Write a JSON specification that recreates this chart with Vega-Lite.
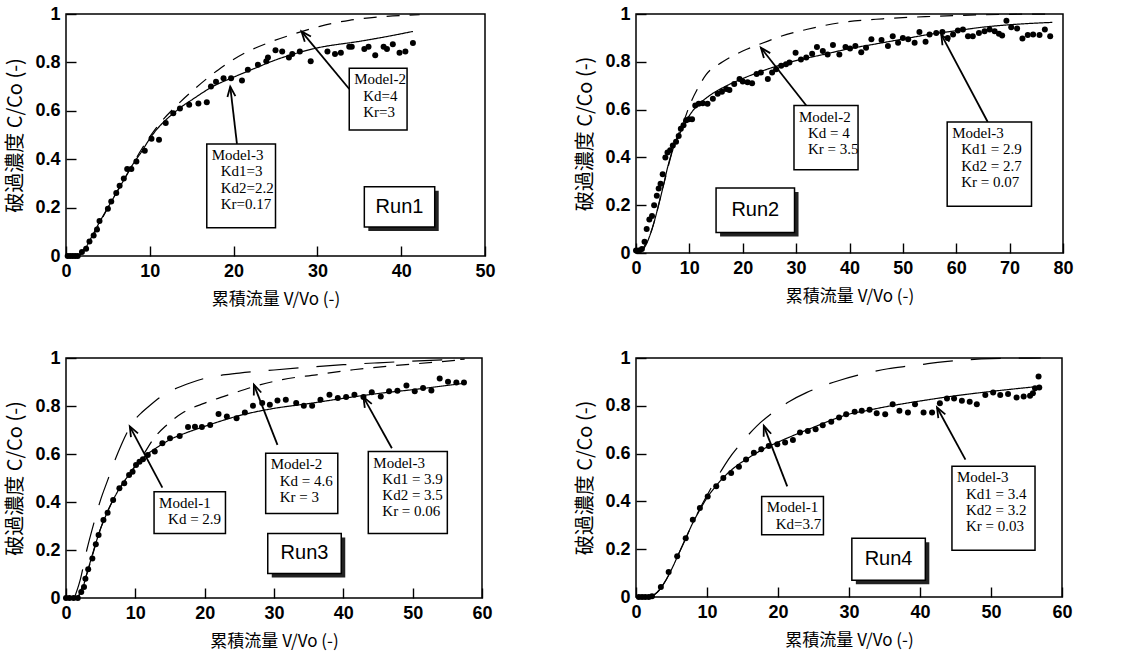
{
  "$schema": "https://vega.github.io/schema/vega-lite/v6.json",
  "background": "white",
  "padding": {"left": 5, "top": 4, "right": 5, "bottom": 5},
  "columns": 2,
  "spacing": {"row": 102, "column": 151},
  "bounds": "flush",
  "config": {
    "view": {"stroke": "black", "strokeWidth": 1.5},
    "axis": {
      "domain": false, "grid": false,
      "tickColor": "black", "tickSize": -10, "tickWidth": 1.4,
      "labelFont": "Liberation Sans", "labelFontWeight": "bold", "labelFontSize": 18, "labelColor": "black",
      "labelFlush": false, "labelPadding": 16,
      "titleFont": "Noto Sans CJK JP", "titleFontWeight": "normal", "titleColor": "black"
    },
    "axisX": {"titlePadding": 11, "titleFontSize": 17},
    "axisY": {"titlePadding": 9, "titleFontSize": 20}
  },
  "datasets": {
    "run1": [
      {"x":0.2,"y":0},{"x":0.5,"y":0},{"x":0.8,"y":0},{"x":1.1,"y":0},{"x":1.4,"y":0},{"x":1.9,"y":0.017},{"x":2.4,"y":0.03},{"x":2.8,"y":0.06},{"x":3.3,"y":0.085},{"x":3.7,"y":0.11},{"x":4.0,"y":0.145},{"x":5.0,"y":0.195},{"x":5.4,"y":0.225},{"x":6.0,"y":0.26},{"x":6.4,"y":0.29},{"x":6.9,"y":0.32},{"x":7.3,"y":0.36},{"x":7.8,"y":0.36},{"x":8.4,"y":0.39},{"x":9.4,"y":0.435},{"x":10.2,"y":0.485},{"x":11.1,"y":0.48},{"x":11.9,"y":0.55},{"x":12.8,"y":0.59},{"x":13.6,"y":0.61},{"x":14.7,"y":0.625},{"x":15.8,"y":0.63},{"x":16.8,"y":0.635},{"x":17.3,"y":0.7},{"x":17.9,"y":0.72},{"x":18.8,"y":0.735},{"x":19.7,"y":0.735},{"x":21.0,"y":0.725},{"x":21.7,"y":0.77},{"x":22.9,"y":0.79},{"x":23.9,"y":0.805},{"x":24.1,"y":0.82},{"x":25.0,"y":0.85},{"x":25.8,"y":0.845},{"x":26.6,"y":0.82},{"x":27.0,"y":0.835},{"x":27.9,"y":0.845},{"x":29.2,"y":0.805},{"x":31.2,"y":0.845},{"x":32.1,"y":0.835},{"x":32.8,"y":0.84},{"x":33.8,"y":0.865},{"x":34.1,"y":0.865},{"x":35.6,"y":0.855},{"x":36.1,"y":0.865},{"x":36.9,"y":0.83},{"x":37.9,"y":0.865},{"x":38.3,"y":0.855},{"x":39.0,"y":0.875},{"x":39.8,"y":0.84},{"x":40.5,"y":0.845},{"x":41.4,"y":0.88}
    ],
    "run1_models": [
      {"model":"Model-3","x":1.5,"y":0},{"model":"Model-3","x":2,"y":0.015},{"model":"Model-3","x":3,"y":0.075},{"model":"Model-3","x":4,"y":0.14},{"model":"Model-3","x":5,"y":0.2},{"model":"Model-3","x":6,"y":0.26},{"model":"Model-3","x":7,"y":0.32},{"model":"Model-3","x":8,"y":0.38},{"model":"Model-3","x":9,"y":0.43},{"model":"Model-3","x":10,"y":0.485},{"model":"Model-3","x":11,"y":0.53},{"model":"Model-3","x":12,"y":0.565},{"model":"Model-3","x":13,"y":0.595},{"model":"Model-3","x":14,"y":0.622},{"model":"Model-3","x":15,"y":0.645},{"model":"Model-3","x":17.5,"y":0.7},{"model":"Model-3","x":20,"y":0.739},{"model":"Model-3","x":22.5,"y":0.775},{"model":"Model-3","x":25,"y":0.81},{"model":"Model-3","x":27.5,"y":0.838},{"model":"Model-3","x":30,"y":0.86},{"model":"Model-3","x":35,"y":0.887},{"model":"Model-3","x":38,"y":0.905},{"model":"Model-3","x":41.4,"y":0.928},
      {"model":"Model-2","x":1.5,"y":0},{"model":"Model-2","x":3,"y":0.07},{"model":"Model-2","x":5,"y":0.2},{"model":"Model-2","x":7,"y":0.32},{"model":"Model-2","x":9,"y":0.44},{"model":"Model-2","x":11,"y":0.54},{"model":"Model-2","x":13,"y":0.615},{"model":"Model-2","x":15.2,"y":0.686},{"model":"Model-2","x":18.2,"y":0.77},{"model":"Model-2","x":21.3,"y":0.838},{"model":"Model-2","x":24.3,"y":0.883},{"model":"Model-2","x":27.9,"y":0.925},{"model":"Model-2","x":30.3,"y":0.949},{"model":"Model-2","x":33.8,"y":0.974},{"model":"Model-2","x":37.4,"y":0.988},{"model":"Model-2","x":42.2,"y":0.997}
    ],
    "run2": [
      {"x":0,"y":0.01},{"x":0.5,"y":0.01},{"x":1.1,"y":0.017},{"x":1.6,"y":0.047},{"x":2.0,"y":0.1},{"x":2.5,"y":0.14},{"x":3.0,"y":0.155},{"x":3.4,"y":0.2},{"x":3.9,"y":0.24},{"x":4.25,"y":0.27},{"x":4.6,"y":0.29},{"x":5.0,"y":0.33},{"x":5.5,"y":0.4},{"x":5.9,"y":0.42},{"x":6.4,"y":0.43},{"x":6.9,"y":0.45},{"x":7.5,"y":0.465},{"x":8.0,"y":0.49},{"x":8.4,"y":0.52},{"x":8.9,"y":0.535},{"x":9.4,"y":0.555},{"x":9.9,"y":0.56},{"x":10.5,"y":0.56},{"x":11.1,"y":0.617},{"x":11.75,"y":0.625},{"x":12.5,"y":0.627},{"x":13.4,"y":0.624},{"x":14.4,"y":0.645},{"x":15.3,"y":0.666},{"x":16.1,"y":0.675},{"x":16.9,"y":0.686},{"x":17.5,"y":0.682},{"x":18.4,"y":0.707},{"x":19.4,"y":0.728},{"x":20.0,"y":0.718},{"x":20.9,"y":0.714},{"x":21.75,"y":0.71},{"x":22.6,"y":0.749},{"x":23.4,"y":0.755},{"x":24.7,"y":0.728},{"x":25.5,"y":0.755},{"x":26.25,"y":0.769},{"x":27.2,"y":0.783},{"x":28.1,"y":0.79},{"x":28.75,"y":0.797},{"x":29.9,"y":0.838},{"x":30.9,"y":0.81},{"x":31.9,"y":0.818},{"x":33.0,"y":0.834},{"x":33.9,"y":0.862},{"x":35.0,"y":0.845},{"x":35.9,"y":0.831},{"x":36.9,"y":0.87},{"x":38.1,"y":0.831},{"x":39.25,"y":0.862},{"x":40.1,"y":0.856},{"x":41.1,"y":0.866},{"x":42.2,"y":0.84},{"x":43.1,"y":0.859},{"x":44.1,"y":0.894},{"x":46.0,"y":0.891},{"x":47.2,"y":0.866},{"x":48.1,"y":0.907},{"x":49.1,"y":0.88},{"x":50.0,"y":0.9},{"x":51.0,"y":0.894},{"x":52.2,"y":0.88},{"x":53.1,"y":0.925},{"x":54.25,"y":0.884},{"x":55.0,"y":0.914},{"x":56.25,"y":0.921},{"x":57.4,"y":0.925},{"x":58.4,"y":0.9},{"x":59.4,"y":0.914},{"x":60.3,"y":0.931},{"x":61.25,"y":0.935},{"x":62.2,"y":0.907},{"x":63.1,"y":0.907},{"x":64.25,"y":0.921},{"x":65.3,"y":0.928},{"x":66.25,"y":0.935},{"x":67.2,"y":0.928},{"x":68.0,"y":0.917},{"x":68.6,"y":0.91},{"x":69.4,"y":0.972},{"x":70.3,"y":0.945},{"x":71.4,"y":0.939},{"x":72.4,"y":0.898},{"x":73.4,"y":0.912},{"x":74.4,"y":0.914},{"x":75.6,"y":0.912},{"x":76.6,"y":0.935},{"x":77.6,"y":0.907}
    ],
    "run2_models": [
      {"model":"Model-3","x":0.8,"y":0},{"model":"Model-3","x":2,"y":0.04},{"model":"Model-3","x":3,"y":0.1},{"model":"Model-3","x":4,"y":0.18},{"model":"Model-3","x":5,"y":0.27},{"model":"Model-3","x":6,"y":0.365},{"model":"Model-3","x":7,"y":0.44},{"model":"Model-3","x":8,"y":0.49},{"model":"Model-3","x":9,"y":0.535},{"model":"Model-3","x":10,"y":0.575},{"model":"Model-3","x":11,"y":0.605},{"model":"Model-3","x":12,"y":0.627},{"model":"Model-3","x":14,"y":0.662},{"model":"Model-3","x":17,"y":0.7},{"model":"Model-3","x":20,"y":0.73},{"model":"Model-3","x":25,"y":0.772},{"model":"Model-3","x":30,"y":0.805},{"model":"Model-3","x":35,"y":0.83},{"model":"Model-3","x":40,"y":0.855},{"model":"Model-3","x":45,"y":0.875},{"model":"Model-3","x":50,"y":0.895},{"model":"Model-3","x":55,"y":0.915},{"model":"Model-3","x":60,"y":0.93},{"model":"Model-3","x":65,"y":0.945},{"model":"Model-3","x":70,"y":0.955},{"model":"Model-3","x":78,"y":0.965},
      {"model":"Model-2","x":0.8,"y":0},{"model":"Model-2","x":3,"y":0.1},{"model":"Model-2","x":5,"y":0.27},{"model":"Model-2","x":7,"y":0.44},{"model":"Model-2","x":9.1,"y":0.56},{"model":"Model-2","x":10,"y":0.615},{"model":"Model-2","x":11.6,"y":0.69},{"model":"Model-2","x":13.1,"y":0.745},{"model":"Model-2","x":16.25,"y":0.8},{"model":"Model-2","x":20,"y":0.845},{"model":"Model-2","x":23.1,"y":0.873},{"model":"Model-2","x":26.9,"y":0.905},{"model":"Model-2","x":31.9,"y":0.935},{"model":"Model-2","x":38.1,"y":0.963},{"model":"Model-2","x":46.25,"y":0.98},{"model":"Model-2","x":55.6,"y":0.99},{"model":"Model-2","x":68,"y":0.998},{"model":"Model-2","x":78,"y":1.0}
    ],
    "run3": [
      {"x":0,"y":0},{"x":0.5,"y":0},{"x":1.1,"y":0},{"x":1.7,"y":0},{"x":2.2,"y":0.025},{"x":2.6,"y":0.046},{"x":2.8,"y":0.08},{"x":3.2,"y":0.12},{"x":3.8,"y":0.165},{"x":4.3,"y":0.224},{"x":4.7,"y":0.262},{"x":5.4,"y":0.325},{"x":6.0,"y":0.355},{"x":6.8,"y":0.408},{"x":7.7,"y":0.457},{"x":8.4,"y":0.478},{"x":9.1,"y":0.513},{"x":9.6,"y":0.526},{"x":10.1,"y":0.554},{"x":10.6,"y":0.568},{"x":11.1,"y":0.578},{"x":11.8,"y":0.596},{"x":12.8,"y":0.61},{"x":13.9,"y":0.645},{"x":15.0,"y":0.666},{"x":16.4,"y":0.675},{"x":17.6,"y":0.712},{"x":18.6,"y":0.714},{"x":19.6,"y":0.712},{"x":20.8,"y":0.721},{"x":22.0,"y":0.767},{"x":23.2,"y":0.756},{"x":24.6,"y":0.749},{"x":25.8,"y":0.773},{"x":26.97,"y":0.801},{"x":28.3,"y":0.812},{"x":29.4,"y":0.805},{"x":30.5,"y":0.823},{"x":31.7,"y":0.826},{"x":33.2,"y":0.812},{"x":34.3,"y":0.801},{"x":35.5,"y":0.801},{"x":36.7,"y":0.826},{"x":38.0,"y":0.847},{"x":39.2,"y":0.833},{"x":40.4,"y":0.837},{"x":41.6,"y":0.847},{"x":42.9,"y":0.837},{"x":44.1,"y":0.857},{"x":45.4,"y":0.84},{"x":46.6,"y":0.861},{"x":47.8,"y":0.864},{"x":49.1,"y":0.885},{"x":50.3,"y":0.861},{"x":51.5,"y":0.875},{"x":52.7,"y":0.865},{"x":53.9,"y":0.915},{"x":55.1,"y":0.901},{"x":56.3,"y":0.898},{"x":57.4,"y":0.898}
    ],
    "run3_models": [
      {"model":"Model-3","x":1.7,"y":0},{"model":"Model-3","x":2.5,"y":0.05},{"model":"Model-3","x":3,"y":0.1},{"model":"Model-3","x":4,"y":0.2},{"model":"Model-3","x":5,"y":0.29},{"model":"Model-3","x":6,"y":0.36},{"model":"Model-3","x":7,"y":0.42},{"model":"Model-3","x":8,"y":0.47},{"model":"Model-3","x":9,"y":0.51},{"model":"Model-3","x":10,"y":0.55},{"model":"Model-3","x":11,"y":0.58},{"model":"Model-3","x":12,"y":0.605},{"model":"Model-3","x":13,"y":0.625},{"model":"Model-3","x":15,"y":0.66},{"model":"Model-3","x":17.5,"y":0.69},{"model":"Model-3","x":20,"y":0.715},{"model":"Model-3","x":25,"y":0.76},{"model":"Model-3","x":30,"y":0.79},{"model":"Model-3","x":35,"y":0.81},{"model":"Model-3","x":40,"y":0.832},{"model":"Model-3","x":45,"y":0.852},{"model":"Model-3","x":50,"y":0.868},{"model":"Model-3","x":57.5,"y":0.895},
      {"model":"Model-2","x":1.7,"y":0},{"model":"Model-2","x":3,"y":0.1},{"model":"Model-2","x":5,"y":0.29},{"model":"Model-2","x":7,"y":0.42},{"model":"Model-2","x":9,"y":0.51},{"model":"Model-2","x":11,"y":0.59},{"model":"Model-2","x":12.8,"y":0.67},{"model":"Model-2","x":14.5,"y":0.72},{"model":"Model-2","x":17,"y":0.775},{"model":"Model-2","x":20,"y":0.812},{"model":"Model-2","x":24,"y":0.852},{"model":"Model-2","x":27.6,"y":0.885},{"model":"Model-2","x":31.2,"y":0.91},{"model":"Model-2","x":36.1,"y":0.93},{"model":"Model-2","x":41.4,"y":0.951},{"model":"Model-2","x":47.2,"y":0.968},{"model":"Model-2","x":53,"y":0.982},{"model":"Model-2","x":57.4,"y":0.993},
      {"model":"Model-1","x":1.2,"y":0},{"model":"Model-1","x":2,"y":0.07},{"model":"Model-1","x":3,"y":0.2},{"model":"Model-1","x":4,"y":0.31},{"model":"Model-1","x":5,"y":0.41},{"model":"Model-1","x":6,"y":0.49},{"model":"Model-1","x":7,"y":0.57},{"model":"Model-1","x":8,"y":0.64},{"model":"Model-1","x":9,"y":0.7},{"model":"Model-1","x":10,"y":0.745},{"model":"Model-1","x":11,"y":0.775},{"model":"Model-1","x":12,"y":0.8},{"model":"Model-1","x":14,"y":0.845},{"model":"Model-1","x":16,"y":0.875},{"model":"Model-1","x":18,"y":0.897},{"model":"Model-1","x":20,"y":0.915},{"model":"Model-1","x":25,"y":0.937},{"model":"Model-1","x":30,"y":0.95},{"model":"Model-1","x":35,"y":0.962},{"model":"Model-1","x":40,"y":0.972},{"model":"Model-1","x":45,"y":0.98},{"model":"Model-1","x":50,"y":0.987},{"model":"Model-1","x":57.5,"y":0.995}
    ],
    "run4": [
      {"x":0.4,"y":0},{"x":0.85,"y":0},{"x":1.3,"y":0},{"x":1.8,"y":0},{"x":2.25,"y":0.003},{"x":3.5,"y":0.042},{"x":4.6,"y":0.105},{"x":5.8,"y":0.171},{"x":7.0,"y":0.246},{"x":8.0,"y":0.323},{"x":9.0,"y":0.372},{"x":10.1,"y":0.421},{"x":11.3,"y":0.463},{"x":12.3,"y":0.498},{"x":13.4,"y":0.519},{"x":14.5,"y":0.545},{"x":15.5,"y":0.575},{"x":16.6,"y":0.604},{"x":17.65,"y":0.618},{"x":18.7,"y":0.632},{"x":19.9,"y":0.639},{"x":21.0,"y":0.646},{"x":22.1,"y":0.657},{"x":23.1,"y":0.688},{"x":24.2,"y":0.695},{"x":25.3,"y":0.702},{"x":26.3,"y":0.719},{"x":27.5,"y":0.733},{"x":28.6,"y":0.751},{"x":29.6,"y":0.765},{"x":30.8,"y":0.775},{"x":31.8,"y":0.779},{"x":32.9,"y":0.783},{"x":33.9,"y":0.769},{"x":35.1,"y":0.765},{"x":36.15,"y":0.807},{"x":37.1,"y":0.779},{"x":38.3,"y":0.772},{"x":39.3,"y":0.807},{"x":40.5,"y":0.772},{"x":41.7,"y":0.772},{"x":42.8,"y":0.811},{"x":43.8,"y":0.831},{"x":44.8,"y":0.831},{"x":45.9,"y":0.821},{"x":47.0,"y":0.817},{"x":48.0,"y":0.807},{"x":49.2,"y":0.845},{"x":50.3,"y":0.856},{"x":51.3,"y":0.845},{"x":52.4,"y":0.849},{"x":53.6,"y":0.835},{"x":54.6,"y":0.839},{"x":55.5,"y":0.842},{"x":55.9,"y":0.853},{"x":56.2,"y":0.873},{"x":56.7,"y":0.923},{"x":56.8,"y":0.877}
    ],
    "run4_models": [
      {"model":"Model-3","x":2,"y":0},{"model":"Model-3","x":3,"y":0.02},{"model":"Model-3","x":4,"y":0.06},{"model":"Model-3","x":5,"y":0.115},{"model":"Model-3","x":6,"y":0.18},{"model":"Model-3","x":7,"y":0.245},{"model":"Model-3","x":8,"y":0.31},{"model":"Model-3","x":9,"y":0.365},{"model":"Model-3","x":10,"y":0.415},{"model":"Model-3","x":11,"y":0.455},{"model":"Model-3","x":12,"y":0.49},{"model":"Model-3","x":13,"y":0.52},{"model":"Model-3","x":14,"y":0.545},{"model":"Model-3","x":16,"y":0.585},{"model":"Model-3","x":18,"y":0.62},{"model":"Model-3","x":20,"y":0.648},{"model":"Model-3","x":22.5,"y":0.68},{"model":"Model-3","x":25,"y":0.71},{"model":"Model-3","x":27.5,"y":0.74},{"model":"Model-3","x":30,"y":0.765},{"model":"Model-3","x":32.5,"y":0.78},{"model":"Model-3","x":35,"y":0.795},{"model":"Model-3","x":40,"y":0.82},{"model":"Model-3","x":45,"y":0.842},{"model":"Model-3","x":50,"y":0.86},{"model":"Model-3","x":57,"y":0.882},
      {"model":"Model-1","x":2,"y":0},{"model":"Model-1","x":3,"y":0.02},{"model":"Model-1","x":4,"y":0.06},{"model":"Model-1","x":5,"y":0.115},{"model":"Model-1","x":6,"y":0.18},{"model":"Model-1","x":7,"y":0.245},{"model":"Model-1","x":8,"y":0.31},{"model":"Model-1","x":9,"y":0.37},{"model":"Model-1","x":10,"y":0.425},{"model":"Model-1","x":11,"y":0.478},{"model":"Model-1","x":12,"y":0.528},{"model":"Model-1","x":13,"y":0.575},{"model":"Model-1","x":15,"y":0.65},{"model":"Model-1","x":17,"y":0.715},{"model":"Model-1","x":19.2,"y":0.77},{"model":"Model-1","x":21.6,"y":0.818},{"model":"Model-1","x":24,"y":0.855},{"model":"Model-1","x":26.2,"y":0.882},{"model":"Model-1","x":28.5,"y":0.905},{"model":"Model-1","x":31,"y":0.926},{"model":"Model-1","x":33,"y":0.94},{"model":"Model-1","x":35.5,"y":0.955},{"model":"Model-1","x":38,"y":0.965},{"model":"Model-1","x":40,"y":0.972},{"model":"Model-1","x":42.5,"y":0.982},{"model":"Model-1","x":46.5,"y":0.992},{"model":"Model-1","x":50,"y":0.997},{"model":"Model-1","x":57,"y":1.0}
    ],
    "notes": [
      {"run":"Run1","head":"Model-3","body":"Kd1=3\nKd2=2.2\nKr=0.17","x1":16.8,"x2":25.0,"y1":0.117,"y2":0.463,"ax":20.4,"ay":0.463,"hx":19.6,"hy":0.7},
      {"run":"Run1","head":"Model-2","body":"Kd=4\nKr=3","x1":33.8,"x2":40.7,"y1":0.521,"y2":0.776,"ax":33.8,"ay":0.69,"hx":28.1,"hy":0.928},
      {"run":"Run2","head":"Model-2","body":"Kd = 4\nKr = 3.5","x1":29.6,"x2":41.6,"y1":0.348,"y2":0.617,"ax":31.9,"ay":0.617,"hx":23.4,"hy":0.859},
      {"run":"Run2","head":"Model-3","body":"Kd1 = 2.9\nKd2 = 2.7\nKr = 0.07","x1":58.3,"x2":74.1,"y1":0.196,"y2":0.548,"ax":65.9,"ay":0.548,"hx":57.2,"hy":0.914},
      {"run":"Run3","head":"Model-1","body":"Kd = 2.9","x1":12.7,"x2":23.0,"y1":0.269,"y2":0.443,"ax":13.9,"ay":0.46,"hx":9.2,"hy":0.715},
      {"run":"Run3","head":"Model-2","body":"Kd = 4.6\nKr = 3","x1":28.8,"x2":39.2,"y1":0.352,"y2":0.603,"ax":30.5,"ay":0.638,"hx":27.1,"hy":0.889},
      {"run":"Run3","head":"Model-3","body":"Kd1 = 3.9\nKd2 = 3.5\nKr = 0.06","x1":43.6,"x2":55.0,"y1":0.269,"y2":0.61,"ax":47.0,"ay":0.624,"hx":42.9,"hy":0.837},
      {"run":"Run4","head":"Model-1","body":"Kd=3.7","x1":17.7,"x2":26.4,"y1":0.26,"y2":0.421,"ax":21.3,"ay":0.463,"hx":18.0,"hy":0.716},
      {"run":"Run4","head":"Model-3","body":"Kd1 = 3.4\nKd2 = 3.2\nKr = 0.03","x1":44.5,"x2":56.2,"y1":0.196,"y2":0.547,"ax":46.4,"ay":0.575,"hx":42.4,"hy":0.793}
    ],
    "runs": [
      {"run":"Run1","x1":35.6,"x2":44.0,"y1":0.12,"y2":0.286},
      {"run":"Run2","x1":15,"x2":29.7,"y1":0.086,"y2":0.272},
      {"run":"Run3","x1":29.1,"x2":39.7,"y1":0.102,"y2":0.269},
      {"run":"Run4","x1":30.4,"x2":40.75,"y1":0.07,"y2":0.246}
    ]
  },
  "concat": [
    {
      "width": 419, "height": 242,
      "layer": [
        {"data": {"name": "run1_models"}, "mark": {"type": "line", "color": "black", "strokeWidth": 1.2, "interpolate": "monotone"},
         "encoding": {
           "x": {"field": "x", "type": "quantitative", "scale": {"domain": [0, 50], "nice": false}, "axis": {"values": [0,10,20,30,40,50], "format": "d", "title": "累積流量 V/Vo (-)"}},
           "y": {"field": "y", "type": "quantitative", "scale": {"domain": [0, 1], "nice": false}, "axis": {"values": [0,0.2,0.4,0.6,0.8,1], "format": "~g", "title": "破過濃度 C/Co (-)"}},
           "strokeDash": {"field": "model", "type": "nominal", "scale": {"domain": ["Model-1","Model-2","Model-3"], "range": [[30,18],[13,10],[1,0]]}, "legend": null}}},
        {"data": {"name": "run1"}, "mark": {"type": "circle", "color": "black", "size": 36, "opacity": 1},
         "encoding": {"x": {"field": "x", "type": "quantitative"}, "y": {"field": "y", "type": "quantitative"}}},
        {"data": {"name": "notes"}, "transform": [{"filter": "datum.run == 'Run1'"}], "mark": {"type": "rule", "color": "black", "strokeWidth": 1.8},
         "encoding": {"x": {"field": "ax", "type": "quantitative"}, "y": {"field": "ay", "type": "quantitative"}, "x2": {"field": "hx"}, "y2": {"field": "hy"}}},
        {"data": {"name": "notes"}, "transform": [{"filter": "datum.run == 'Run1'"}, {"calculate": "atan2((datum.hx-datum.ax)*8.38, (datum.hy-datum.ay)*242)*180/PI", "as": "ang"}],
         "mark": {"type": "point", "shape": "M -0.4 1 L 0 0 L 0.4 1", "filled": false, "color": "black", "strokeWidth": 1.8, "size": 400, "opacity": 1},
         "encoding": {"x": {"field": "hx", "type": "quantitative"}, "y": {"field": "hy", "type": "quantitative"}, "angle": {"field": "ang", "type": "quantitative", "scale": null}}},
        {"data": {"name": "notes"}, "transform": [{"filter": "datum.run == 'Run1'"}], "mark": {"type": "rect", "fill": "white", "stroke": "black", "strokeWidth": 1.5},
         "encoding": {"x": {"field": "x1", "type": "quantitative"}, "x2": {"field": "x2"}, "y": {"field": "y1", "type": "quantitative"}, "y2": {"field": "y2"}}},
        {"data": {"name": "notes"}, "transform": [{"filter": "datum.run == 'Run1'"}], "mark": {"type": "text", "font": "Liberation Serif", "fontSize": 15, "align": "left", "baseline": "top", "dx": 5, "dy": 4, "color": "black"},
         "encoding": {"x": {"field": "x1", "type": "quantitative"}, "y": {"field": "y2", "type": "quantitative"}, "text": {"field": "head"}}},
        {"data": {"name": "notes"}, "transform": [{"filter": "datum.run == 'Run1'"}], "mark": {"type": "text", "font": "Liberation Serif", "fontSize": 15, "align": "left", "baseline": "top", "dx": 14, "dy": 20.3, "lineHeight": 16.3, "lineBreak": "\n", "color": "black"},
         "encoding": {"x": {"field": "x1", "type": "quantitative"}, "y": {"field": "y2", "type": "quantitative"}, "text": {"field": "body"}}},
        {"data": {"name": "runs"}, "transform": [{"filter": "datum.run == 'Run1'"}], "mark": {"type": "rect", "fill": "#222", "xOffset": 4, "x2Offset": 4, "yOffset": 4, "y2Offset": 4},
         "encoding": {"x": {"field": "x1", "type": "quantitative"}, "x2": {"field": "x2"}, "y": {"field": "y1", "type": "quantitative"}, "y2": {"field": "y2"}}},
        {"data": {"name": "runs"}, "transform": [{"filter": "datum.run == 'Run1'"}], "mark": {"type": "rect", "fill": "white", "stroke": "black", "strokeWidth": 1.5},
         "encoding": {"x": {"field": "x1", "type": "quantitative"}, "x2": {"field": "x2"}, "y": {"field": "y1", "type": "quantitative"}, "y2": {"field": "y2"}}},
        {"data": {"name": "runs"}, "transform": [{"filter": "datum.run == 'Run1'"}, {"calculate": "(datum.x1+datum.x2)/2", "as": "cx"}, {"calculate": "(datum.y1+datum.y2)/2", "as": "cy"}],
         "mark": {"type": "text", "font": "Liberation Sans", "fontSize": 20, "align": "center", "baseline": "middle", "color": "black"},
         "encoding": {"x": {"field": "cx", "type": "quantitative"}, "y": {"field": "cy", "type": "quantitative"}, "text": {"field": "run"}}}
      ]
    },
    {
      "width": 427, "height": 239,
      "layer": [
        {"data": {"name": "run2_models"}, "mark": {"type": "line", "color": "black", "strokeWidth": 1.2, "interpolate": "monotone"},
         "encoding": {
           "x": {"field": "x", "type": "quantitative", "scale": {"domain": [0, 80], "nice": false}, "axis": {"values": [0,10,20,30,40,50,60,70,80], "format": "d", "title": "累積流量  V/Vo (-)"}},
           "y": {"field": "y", "type": "quantitative", "scale": {"domain": [0, 1], "nice": false}, "axis": {"values": [0,0.2,0.4,0.6,0.8,1], "format": "~g", "title": "破過濃度 C/Co (-)"}},
           "strokeDash": {"field": "model", "type": "nominal", "scale": {"domain": ["Model-1","Model-2","Model-3"], "range": [[30,18],[13,10],[1,0]]}, "legend": null}}},
        {"data": {"name": "run2"}, "mark": {"type": "circle", "color": "black", "size": 36, "opacity": 1},
         "encoding": {"x": {"field": "x", "type": "quantitative"}, "y": {"field": "y", "type": "quantitative"}}},
        {"data": {"name": "notes"}, "transform": [{"filter": "datum.run == 'Run2'"}], "mark": {"type": "rule", "color": "black", "strokeWidth": 1.8},
         "encoding": {"x": {"field": "ax", "type": "quantitative"}, "y": {"field": "ay", "type": "quantitative"}, "x2": {"field": "hx"}, "y2": {"field": "hy"}}},
        {"data": {"name": "notes"}, "transform": [{"filter": "datum.run == 'Run2'"}, {"calculate": "atan2((datum.hx-datum.ax)*5.34, (datum.hy-datum.ay)*239)*180/PI", "as": "ang"}],
         "mark": {"type": "point", "shape": "M -0.4 1 L 0 0 L 0.4 1", "filled": false, "color": "black", "strokeWidth": 1.8, "size": 400, "opacity": 1},
         "encoding": {"x": {"field": "hx", "type": "quantitative"}, "y": {"field": "hy", "type": "quantitative"}, "angle": {"field": "ang", "type": "quantitative", "scale": null}}},
        {"data": {"name": "notes"}, "transform": [{"filter": "datum.run == 'Run2'"}], "mark": {"type": "rect", "fill": "white", "stroke": "black", "strokeWidth": 1.5},
         "encoding": {"x": {"field": "x1", "type": "quantitative"}, "x2": {"field": "x2"}, "y": {"field": "y1", "type": "quantitative"}, "y2": {"field": "y2"}}},
        {"data": {"name": "notes"}, "transform": [{"filter": "datum.run == 'Run2'"}], "mark": {"type": "text", "font": "Liberation Serif", "fontSize": 15, "align": "left", "baseline": "top", "dx": 5, "dy": 4, "color": "black"},
         "encoding": {"x": {"field": "x1", "type": "quantitative"}, "y": {"field": "y2", "type": "quantitative"}, "text": {"field": "head"}}},
        {"data": {"name": "notes"}, "transform": [{"filter": "datum.run == 'Run2'"}], "mark": {"type": "text", "font": "Liberation Serif", "fontSize": 15, "align": "left", "baseline": "top", "dx": 14, "dy": 20.3, "lineHeight": 16.3, "lineBreak": "\n", "color": "black"},
         "encoding": {"x": {"field": "x1", "type": "quantitative"}, "y": {"field": "y2", "type": "quantitative"}, "text": {"field": "body"}}},
        {"data": {"name": "runs"}, "transform": [{"filter": "datum.run == 'Run2'"}], "mark": {"type": "rect", "fill": "#222", "xOffset": 4, "x2Offset": 4, "yOffset": 4, "y2Offset": 4},
         "encoding": {"x": {"field": "x1", "type": "quantitative"}, "x2": {"field": "x2"}, "y": {"field": "y1", "type": "quantitative"}, "y2": {"field": "y2"}}},
        {"data": {"name": "runs"}, "transform": [{"filter": "datum.run == 'Run2'"}], "mark": {"type": "rect", "fill": "white", "stroke": "black", "strokeWidth": 1.5},
         "encoding": {"x": {"field": "x1", "type": "quantitative"}, "x2": {"field": "x2"}, "y": {"field": "y1", "type": "quantitative"}, "y2": {"field": "y2"}}},
        {"data": {"name": "runs"}, "transform": [{"filter": "datum.run == 'Run2'"}, {"calculate": "(datum.x1+datum.x2)/2", "as": "cx"}, {"calculate": "(datum.y1+datum.y2)/2", "as": "cy"}],
         "mark": {"type": "text", "font": "Liberation Sans", "fontSize": 20, "align": "center", "baseline": "middle", "color": "black"},
         "encoding": {"x": {"field": "cx", "type": "quantitative"}, "y": {"field": "cy", "type": "quantitative"}, "text": {"field": "run"}}}
      ]
    },
    {
      "width": 416, "height": 240,
      "layer": [
        {"data": {"name": "run3_models"}, "mark": {"type": "line", "color": "black", "strokeWidth": 1.2, "interpolate": "monotone"},
         "encoding": {
           "x": {"field": "x", "type": "quantitative", "scale": {"domain": [0, 60], "nice": false}, "axis": {"values": [0,10,20,30,40,50,60], "format": "d", "title": "累積流量 V/Vo (-)"}},
           "y": {"field": "y", "type": "quantitative", "scale": {"domain": [0, 1], "nice": false}, "axis": {"values": [0,0.2,0.4,0.6,0.8,1], "format": "~g", "title": "破過濃度 C/Co (-)"}},
           "strokeDash": {"field": "model", "type": "nominal", "scale": {"domain": ["Model-1","Model-2","Model-3"], "range": [[30,18],[13,10],[1,0]]}, "legend": null}}},
        {"data": {"name": "run3"}, "mark": {"type": "circle", "color": "black", "size": 36, "opacity": 1},
         "encoding": {"x": {"field": "x", "type": "quantitative"}, "y": {"field": "y", "type": "quantitative"}}},
        {"data": {"name": "notes"}, "transform": [{"filter": "datum.run == 'Run3'"}], "mark": {"type": "rule", "color": "black", "strokeWidth": 1.8},
         "encoding": {"x": {"field": "ax", "type": "quantitative"}, "y": {"field": "ay", "type": "quantitative"}, "x2": {"field": "hx"}, "y2": {"field": "hy"}}},
        {"data": {"name": "notes"}, "transform": [{"filter": "datum.run == 'Run3'"}, {"calculate": "atan2((datum.hx-datum.ax)*6.93, (datum.hy-datum.ay)*240)*180/PI", "as": "ang"}],
         "mark": {"type": "point", "shape": "M -0.4 1 L 0 0 L 0.4 1", "filled": false, "color": "black", "strokeWidth": 1.8, "size": 400, "opacity": 1},
         "encoding": {"x": {"field": "hx", "type": "quantitative"}, "y": {"field": "hy", "type": "quantitative"}, "angle": {"field": "ang", "type": "quantitative", "scale": null}}},
        {"data": {"name": "notes"}, "transform": [{"filter": "datum.run == 'Run3'"}], "mark": {"type": "rect", "fill": "white", "stroke": "black", "strokeWidth": 1.5},
         "encoding": {"x": {"field": "x1", "type": "quantitative"}, "x2": {"field": "x2"}, "y": {"field": "y1", "type": "quantitative"}, "y2": {"field": "y2"}}},
        {"data": {"name": "notes"}, "transform": [{"filter": "datum.run == 'Run3'"}], "mark": {"type": "text", "font": "Liberation Serif", "fontSize": 15, "align": "left", "baseline": "top", "dx": 5, "dy": 4, "color": "black"},
         "encoding": {"x": {"field": "x1", "type": "quantitative"}, "y": {"field": "y2", "type": "quantitative"}, "text": {"field": "head"}}},
        {"data": {"name": "notes"}, "transform": [{"filter": "datum.run == 'Run3'"}], "mark": {"type": "text", "font": "Liberation Serif", "fontSize": 15, "align": "left", "baseline": "top", "dx": 14, "dy": 20.3, "lineHeight": 16.3, "lineBreak": "\n", "color": "black"},
         "encoding": {"x": {"field": "x1", "type": "quantitative"}, "y": {"field": "y2", "type": "quantitative"}, "text": {"field": "body"}}},
        {"data": {"name": "runs"}, "transform": [{"filter": "datum.run == 'Run3'"}], "mark": {"type": "rect", "fill": "#222", "xOffset": 4, "x2Offset": 4, "yOffset": 4, "y2Offset": 4},
         "encoding": {"x": {"field": "x1", "type": "quantitative"}, "x2": {"field": "x2"}, "y": {"field": "y1", "type": "quantitative"}, "y2": {"field": "y2"}}},
        {"data": {"name": "runs"}, "transform": [{"filter": "datum.run == 'Run3'"}], "mark": {"type": "rect", "fill": "white", "stroke": "black", "strokeWidth": 1.5},
         "encoding": {"x": {"field": "x1", "type": "quantitative"}, "x2": {"field": "x2"}, "y": {"field": "y1", "type": "quantitative"}, "y2": {"field": "y2"}}},
        {"data": {"name": "runs"}, "transform": [{"filter": "datum.run == 'Run3'"}, {"calculate": "(datum.x1+datum.x2)/2", "as": "cx"}, {"calculate": "(datum.y1+datum.y2)/2", "as": "cy"}],
         "mark": {"type": "text", "font": "Liberation Sans", "fontSize": 20, "align": "center", "baseline": "middle", "color": "black"},
         "encoding": {"x": {"field": "cx", "type": "quantitative"}, "y": {"field": "cy", "type": "quantitative"}, "text": {"field": "run"}}}
      ]
    },
    {
      "width": 426, "height": 239,
      "layer": [
        {"data": {"name": "run4_models"}, "mark": {"type": "line", "color": "black", "strokeWidth": 1.2, "interpolate": "monotone"},
         "encoding": {
           "x": {"field": "x", "type": "quantitative", "scale": {"domain": [0, 60], "nice": false}, "axis": {"values": [0,10,20,30,40,50,60], "format": "d", "title": "累積流量 V/Vo (-)"}},
           "y": {"field": "y", "type": "quantitative", "scale": {"domain": [0, 1], "nice": false}, "axis": {"values": [0,0.2,0.4,0.6,0.8,1], "format": "~g", "title": "破過濃度 C/Co (-)"}},
           "strokeDash": {"field": "model", "type": "nominal", "scale": {"domain": ["Model-1","Model-2","Model-3"], "range": [[30,18],[13,10],[1,0]]}, "legend": null}}},
        {"data": {"name": "run4"}, "mark": {"type": "circle", "color": "black", "size": 36, "opacity": 1},
         "encoding": {"x": {"field": "x", "type": "quantitative"}, "y": {"field": "y", "type": "quantitative"}}},
        {"data": {"name": "notes"}, "transform": [{"filter": "datum.run == 'Run4'"}], "mark": {"type": "rule", "color": "black", "strokeWidth": 1.8},
         "encoding": {"x": {"field": "ax", "type": "quantitative"}, "y": {"field": "ay", "type": "quantitative"}, "x2": {"field": "hx"}, "y2": {"field": "hy"}}},
        {"data": {"name": "notes"}, "transform": [{"filter": "datum.run == 'Run4'"}, {"calculate": "atan2((datum.hx-datum.ax)*7.1, (datum.hy-datum.ay)*239)*180/PI", "as": "ang"}],
         "mark": {"type": "point", "shape": "M -0.4 1 L 0 0 L 0.4 1", "filled": false, "color": "black", "strokeWidth": 1.8, "size": 400, "opacity": 1},
         "encoding": {"x": {"field": "hx", "type": "quantitative"}, "y": {"field": "hy", "type": "quantitative"}, "angle": {"field": "ang", "type": "quantitative", "scale": null}}},
        {"data": {"name": "notes"}, "transform": [{"filter": "datum.run == 'Run4'"}], "mark": {"type": "rect", "fill": "white", "stroke": "black", "strokeWidth": 1.5},
         "encoding": {"x": {"field": "x1", "type": "quantitative"}, "x2": {"field": "x2"}, "y": {"field": "y1", "type": "quantitative"}, "y2": {"field": "y2"}}},
        {"data": {"name": "notes"}, "transform": [{"filter": "datum.run == 'Run4'"}], "mark": {"type": "text", "font": "Liberation Serif", "fontSize": 15, "align": "left", "baseline": "top", "dx": 5, "dy": 4, "color": "black"},
         "encoding": {"x": {"field": "x1", "type": "quantitative"}, "y": {"field": "y2", "type": "quantitative"}, "text": {"field": "head"}}},
        {"data": {"name": "notes"}, "transform": [{"filter": "datum.run == 'Run4'"}], "mark": {"type": "text", "font": "Liberation Serif", "fontSize": 15, "align": "left", "baseline": "top", "dx": 14, "dy": 20.3, "lineHeight": 16.3, "lineBreak": "\n", "color": "black"},
         "encoding": {"x": {"field": "x1", "type": "quantitative"}, "y": {"field": "y2", "type": "quantitative"}, "text": {"field": "body"}}},
        {"data": {"name": "runs"}, "transform": [{"filter": "datum.run == 'Run4'"}], "mark": {"type": "rect", "fill": "#222", "xOffset": 4, "x2Offset": 4, "yOffset": 4, "y2Offset": 4},
         "encoding": {"x": {"field": "x1", "type": "quantitative"}, "x2": {"field": "x2"}, "y": {"field": "y1", "type": "quantitative"}, "y2": {"field": "y2"}}},
        {"data": {"name": "runs"}, "transform": [{"filter": "datum.run == 'Run4'"}], "mark": {"type": "rect", "fill": "white", "stroke": "black", "strokeWidth": 1.5},
         "encoding": {"x": {"field": "x1", "type": "quantitative"}, "x2": {"field": "x2"}, "y": {"field": "y1", "type": "quantitative"}, "y2": {"field": "y2"}}},
        {"data": {"name": "runs"}, "transform": [{"filter": "datum.run == 'Run4'"}, {"calculate": "(datum.x1+datum.x2)/2", "as": "cx"}, {"calculate": "(datum.y1+datum.y2)/2", "as": "cy"}],
         "mark": {"type": "text", "font": "Liberation Sans", "fontSize": 20, "align": "center", "baseline": "middle", "color": "black"},
         "encoding": {"x": {"field": "cx", "type": "quantitative"}, "y": {"field": "cy", "type": "quantitative"}, "text": {"field": "run"}}}
      ]
    }
  ]
}
